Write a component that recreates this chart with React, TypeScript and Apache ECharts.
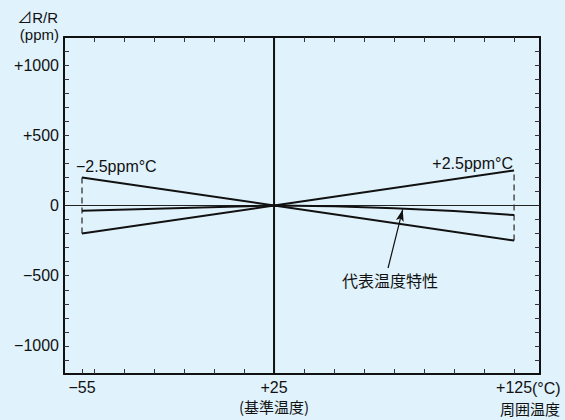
import React, { useEffect, useRef } from "react";
import * as echarts from "echarts";

const xTickValues = [-55, -50, -37.5, -25, -12.5, 0, 12.5, 25, 37.5, 50, 62.5, 75, 87.5, 100, 112.5, 125];
const xTopTickValues = [-50, -37.5, -25, -12.5, 0, 12.5, 25, 37.5, 50, 62.5, 75, 87.5, 100, 112.5, 125];
const xLabelValues = [-55, 25, 125];
const yTickValues = [-1100, -1000, -900, -800, -700, -600, -500, -400, -300, -200, -100, 0, 100, 200, 300, 400, 500, 600, 700, 800, 900, 1000, 1100];
const yLabelValues = [-1000, -500, 0, 500, 1000];

const upperLimit: [number, number][] = [[-55, 200], [25, 0], [125, 250]];
const lowerLimit: [number, number][] = [[-55, -200], [25, 0], [125, -250]];
const typical: [number, number][] = [[-55, -38], [25, 0], [50, -5], [75, -19], [100, -40], [125, -68]];
const leftBound: [number, number][] = [[-55, -200], [-55, 200]];
const rightBound: [number, number][] = [[125, -250], [125, 250]];
const zeroLine: [number, number][] = [[-62.5, 0], [135.8, 0]];
const refLine: [number, number][] = [[25, -1200], [25, 1200]];
const arrowFrom: [number, number] = [72.5, -445];
const arrowTo: [number, number] = [78.6, -28];

const FONT = "'Liberation Sans', Arial, 'Noto Sans CJK JP', sans-serif";
const CJK = "'Noto Sans CJK JP', 'Liberation Sans', sans-serif";
const BG = "#e0f2fb";

function signed(v: number): string {
  if (v > 0) return "+" + v;
  if (v < 0) return "\u2212" + Math.abs(v);
  return "0";
}

export default function App() {
  const ref = useRef<HTMLDivElement>(null);
  useEffect(() => {
    document.body.style.margin = "0";
    const chart = echarts.init(ref.current!, null, { renderer: "svg" });
    const axisLine = { show: true, onZero: false, lineStyle: { color: "#111", width: 2 } };
    const tick = (vals: number[]) => ({ show: true, inside: true, length: 5, customValues: vals, lineStyle: { color: "#333", width: 1 } });
    const lineSeries = (data: [number, number][], width: number, type: any = "solid", color = "#111") => ({
      type: "line",
      data,
      symbol: "none",
      silent: true,
      lineStyle: { color, width, type },
      z: 3,
    });
    chart.setOption({
      animation: false,
      backgroundColor: BG,
      grid: { left: 64, right: 25, top: 37, bottom: 46 },
      xAxis: [
        {
          type: "value",
          min: -62.5,
          max: 135.8,
          position: "bottom",
          axisLine,
          axisTick: tick(xTickValues),
          splitLine: { show: false },
          axisLabel: {
            customValues: xLabelValues,
            margin: 5,
            color: "#111",
            fontSize: 16,
            fontFamily: FONT,
            lineHeight: 17,
            formatter: (v: number) => (v === 25 ? "+25\n{c|(基準温度)}" : signed(v)),
            rich: { c: { fontSize: 15, fontFamily: CJK, lineHeight: 20, color: "#111" } },
          },
        },
        {
          type: "value",
          min: -62.5,
          max: 135.8,
          position: "top",
          axisLine,
          axisTick: tick(xTopTickValues),
          splitLine: { show: false },
          axisLabel: { show: false },
        },
      ],
      yAxis: [
        {
          type: "value",
          min: -1200,
          max: 1200,
          position: "left",
          axisLine,
          axisTick: tick(yTickValues),
          splitLine: { show: false },
          axisLabel: {
            customValues: yLabelValues,
            margin: 5,
            color: "#111",
            fontSize: 16,
            fontFamily: FONT,
            formatter: (v: number) => signed(v),
          },
        },
        {
          type: "value",
          min: -1200,
          max: 1200,
          position: "right",
          axisLine,
          axisTick: tick(yTickValues),
          splitLine: { show: false },
          axisLabel: { show: false },
        },
      ],
      series: [
        lineSeries(zeroLine, 1.2, "solid", "#222"),
        lineSeries(refLine, 2),
        lineSeries(leftBound, 1.3, [6, 4], "#333"),
        lineSeries(rightBound, 1.3, [6, 4], "#333"),
        lineSeries(upperLimit, 2),
        lineSeries(lowerLimit, 2),
        {
          ...lineSeries(typical, 2),
          markLine: {
            silent: true,
            symbol: ["none", "arrow"],
            symbolSize: [6, 12],
            label: { show: false },
            lineStyle: { color: "#111", width: 1.2, type: "solid" },
            data: [[{ coord: arrowFrom }, { coord: arrowTo }]],
          },
        },
      ],
      graphic: [
        { type: "text", x: 58, y: 17, style: { text: "⊿R/R", fill: "#111", font: `15px ${FONT}`, align: "right", verticalAlign: "middle" } },
        { type: "text", x: 59, y: 34, style: { text: "(ppm)", fill: "#111", font: `15px ${FONT}`, align: "right", verticalAlign: "middle" } },
        { type: "text", x: 76, y: 166, style: { text: "\u22122.5ppm°C", fill: "#111", font: `16px ${FONT}`, align: "left", verticalAlign: "middle" } },
        { type: "text", x: 513, y: 163, style: { text: "+2.5ppm°C", fill: "#111", font: `16px ${FONT}`, align: "right", verticalAlign: "middle" } },
        { type: "text", x: 390, y: 280, style: { text: "代表温度特性", fill: "#111", font: `16px ${CJK}`, align: "center", verticalAlign: "middle" } },
        { type: "text", x: 532, y: 388, style: { text: "(°C)", fill: "#111", font: `16px ${FONT}`, align: "left", verticalAlign: "middle" } },
        { type: "text", x: 560, y: 408, style: { text: "周囲温度", fill: "#111", font: `15px ${CJK}`, align: "right", verticalAlign: "middle" } },
      ],
    });
    return () => chart.dispose();
  }, []);
  return <div ref={ref} style={{ width: 565, height: 420 }} />;
}
